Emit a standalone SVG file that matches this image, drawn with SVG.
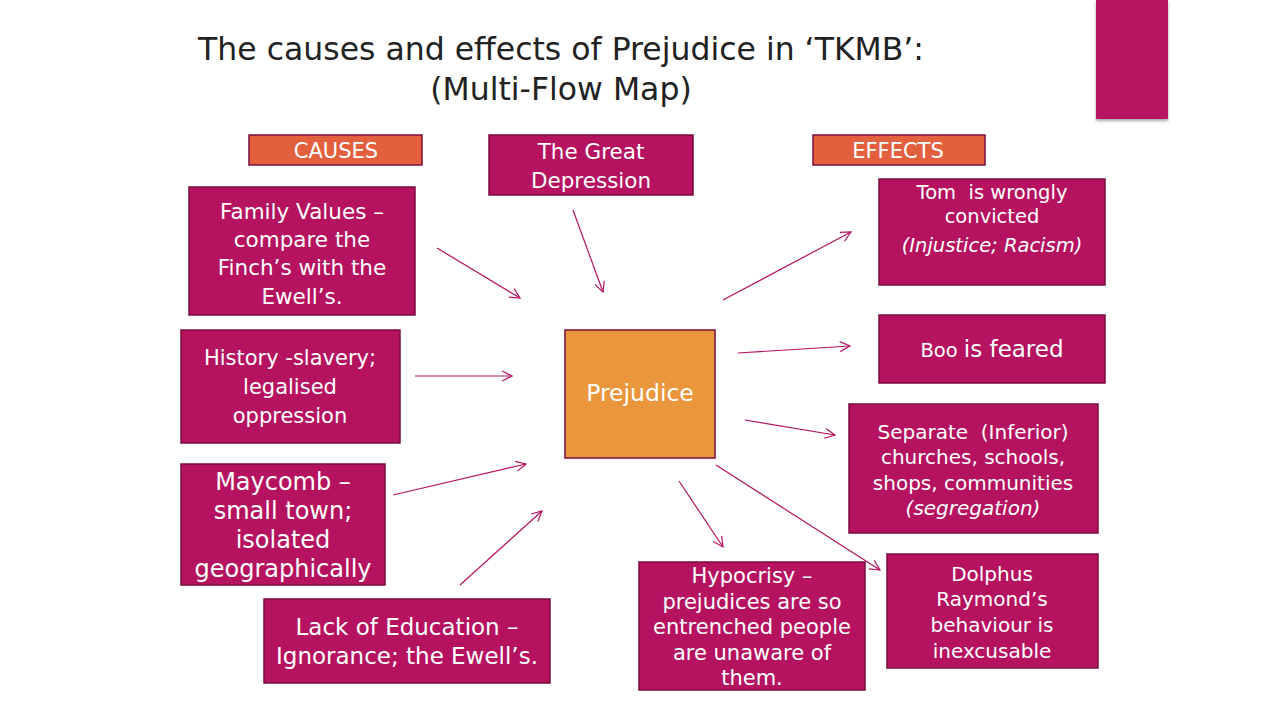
<svg xmlns="http://www.w3.org/2000/svg" width="1280" height="720" viewBox="0 0 1280 720">
<defs>
<style>
.n{fill:#B5135F;stroke:#7A0D3F;stroke-width:1.5}
.h{fill:#E3603F;stroke:#7A0D3F;stroke-width:1.5}
.p{fill:#E9963C;stroke:#7A0D3F;stroke-width:1.5}
text{font-family:"DejaVu Sans","Liberation Sans",sans-serif;fill:#fff;text-anchor:middle;white-space:pre}
.t{fill:#222;font-size:31.5px}
.b{font-size:21.5px}
.s{font-size:19.5px}
.i{font-style:italic}
.c line{stroke:#B5135F;stroke-width:1.2;marker-end:url(#a)}
</style>
<marker id="a" viewBox="0 0 12 12" refX="11" refY="6" markerWidth="12" markerHeight="12" markerUnits="userSpaceOnUse" orient="auto">
<path d="M1,1 L11,6 L1,11" fill="none" stroke="#B5135F" stroke-width="1.2"/>
</marker>
<filter id="sh" x="-20%" y="-20%" width="140%" height="140%">
<feDropShadow dx="0" dy="2" stdDeviation="1.5" flood-color="#000" flood-opacity="0.35"/>
</filter>
</defs>
<rect width="1280" height="720" fill="#fff"/>
<rect x="1096" y="0" width="72" height="119" fill="#B5135F" filter="url(#sh)"/>
<g id="title">
<text class="t" x="561" y="60">The causes and effects of Prejudice in ‘TKMB’:</text>
<text class="t" x="561" y="100">(Multi-Flow Map)</text>
</g>
<g class="c" id="connectors">
<line x1="437" y1="248" x2="520" y2="298"/>
<line x1="573" y1="210" x2="603" y2="292"/>
<line x1="415" y1="376" x2="512" y2="376"/>
<line x1="393" y1="495" x2="526" y2="464"/>
<line x1="460" y1="585" x2="542" y2="511"/>
<line x1="723" y1="300" x2="851" y2="232"/>
<line x1="738" y1="353" x2="850" y2="346"/>
<line x1="745" y1="420" x2="835" y2="435"/>
<line x1="716" y1="465" x2="880" y2="570"/>
<line x1="679" y1="481" x2="723" y2="547"/>
</g>
<g id="causes">
<rect class="h" x="249" y="135" width="173" height="30"/>
<text x="336" y="158" style="font-size:21px">CAUSES</text>
</g>
<g id="effects">
<rect class="h" x="813" y="135" width="172" height="30"/>
<text x="898" y="158" style="font-size:21px">EFFECTS</text>
</g>
<g id="depression">
<rect class="n" x="489" y="135" width="204" height="60"/>
<text class="b" x="591" y="159">The Great</text>
<text class="b" x="591" y="188">Depression</text>
</g>
<g id="family">
<rect class="n" x="189" y="187" width="226" height="128"/>
<text class="b" x="302" y="219">Family Values –</text>
<text class="b" x="302" y="247">compare the</text>
<text class="b" x="302" y="275">Finch’s with the</text>
<text class="b" x="302" y="304">Ewell’s.</text>
</g>
<g id="history" style="font-size:21px">
<rect class="n" x="181" y="330" width="219" height="113"/>
<text x="290" y="365">History -slavery;</text>
<text x="290" y="394">legalised</text>
<text x="290" y="423">oppression</text>
</g>
<g id="maycomb" style="font-size:24px">
<rect class="n" x="181" y="464" width="204" height="121"/>
<text x="283" y="490">Maycomb –</text>
<text x="283" y="519">small town;</text>
<text x="283" y="548">isolated</text>
<text x="283" y="577">geographically</text>
</g>
<g id="education" style="font-size:23px">
<rect class="n" x="264" y="599" width="286" height="84"/>
<text x="407" y="635">Lack of Education –</text>
<text x="407" y="664">Ignorance; the Ewell’s.</text>
</g>
<g id="prejudice">
<rect class="p" x="565" y="330" width="150" height="128"/>
<text x="640" y="401" style="font-size:23.5px">Prejudice</text>
</g>
<g id="tom">
<rect class="n" x="879" y="179" width="226" height="106"/>
<text class="s" x="992" y="199">Tom  is wrongly</text>
<text class="s" x="992" y="223">convicted</text>
<text class="s i" x="992" y="252">(Injustice; Racism)</text>
</g>
<g id="boo">
<rect class="n" x="879" y="315" width="226" height="68"/>
<text x="992" y="357"><tspan style="font-size:19.5px">Boo </tspan><tspan style="font-size:23px">is feared</tspan></text>
</g>
<g id="separate" style="font-size:20px">
<rect class="n" x="849" y="404" width="249" height="129"/>
<text x="973" y="439">Separate  (Inferior)</text>
<text x="973" y="464">churches, schools,</text>
<text x="973" y="490">shops, communities</text>
<text class="i" x="973" y="515">(segregation)</text>
</g>
<g id="dolphus" style="font-size:20px">
<rect class="n" x="887" y="554" width="211" height="114"/>
<text x="992" y="581">Dolphus</text>
<text x="992" y="606">Raymond’s</text>
<text x="992" y="632">behaviour is</text>
<text x="992" y="658">inexcusable</text>
</g>
<g id="hypocrisy" style="font-size:21px">
<rect class="n" x="639" y="562" width="226" height="128"/>
<text x="752" y="583">Hypocrisy –</text>
<text x="752" y="609">prejudices are so</text>
<text x="752" y="634">entrenched people</text>
<text x="752" y="660">are unaware of</text>
<text x="752" y="685">them.</text>
</g>
</svg>
